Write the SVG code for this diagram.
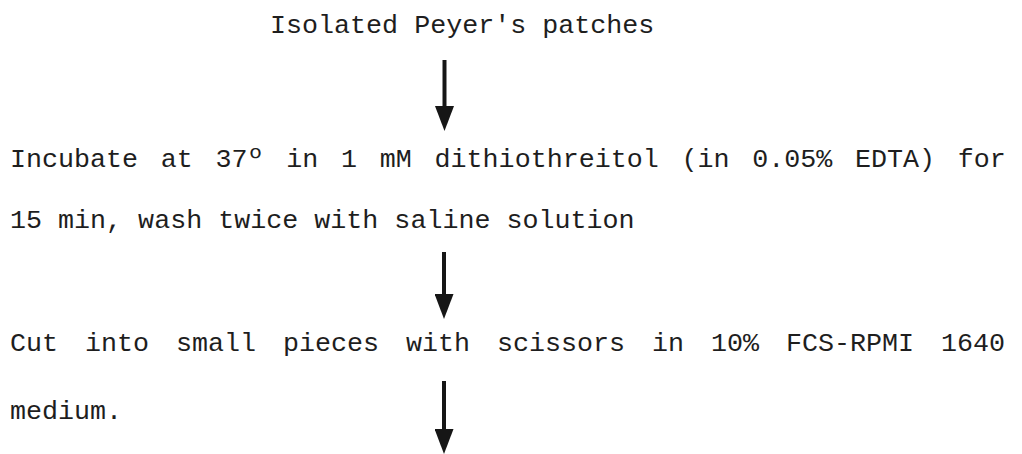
<svg xmlns="http://www.w3.org/2000/svg" width="1022" height="454" viewBox="0 0 1022 454">
<defs>
<style>
.t{font-family:"Liberation Mono","DejaVu Sans Mono",monospace;font-size:26.7px;fill:#1e1e1e}
.c{stroke:#161616;stroke-width:4;fill:none}
</style>
<marker id="ah" markerUnits="userSpaceOnUse" markerWidth="25" markerHeight="19" viewBox="0 0 25 19" refX="0" refY="9.5" orient="auto">
<path d="M0,0 L25,9.5 L0,19 Z" fill="#161616"/>
</marker>
</defs>
<rect width="1022" height="454" fill="#ffffff"/>
<g id="n1"><text class="t" x="270" y="33">Isolated Peyer's patches</text></g>
<g id="n2">
<text class="t" x="10" y="167" style="word-spacing:6.7px">Incubate at 37º in 1 mM dithiothreitol (in 0.05% EDTA) for</text>
<text class="t" x="10" y="228">15 min, wash twice with saline solution</text>
</g>
<g id="n3">
<text class="t" y="351"><tspan x="10">Cut</tspan><tspan x="85">into</tspan><tspan x="176">small</tspan><tspan x="283">pieces</tspan><tspan x="406">with</tspan><tspan x="497">scissors</tspan><tspan x="652">in</tspan><tspan x="711">10%</tspan><tspan x="786">FCS-RPMI</tspan><tspan x="941">1640</tspan></text>
<text class="t" x="10" y="419">medium.</text>
</g>
<g id="connectors">
<line class="c" x1="444.5" y1="60" x2="444.5" y2="106" marker-end="url(#ah)"/>
<line class="c" x1="444" y1="252" x2="444" y2="294" marker-end="url(#ah)"/>
<line class="c" x1="444" y1="381" x2="444" y2="429" marker-end="url(#ah)"/>
</g>
</svg>
